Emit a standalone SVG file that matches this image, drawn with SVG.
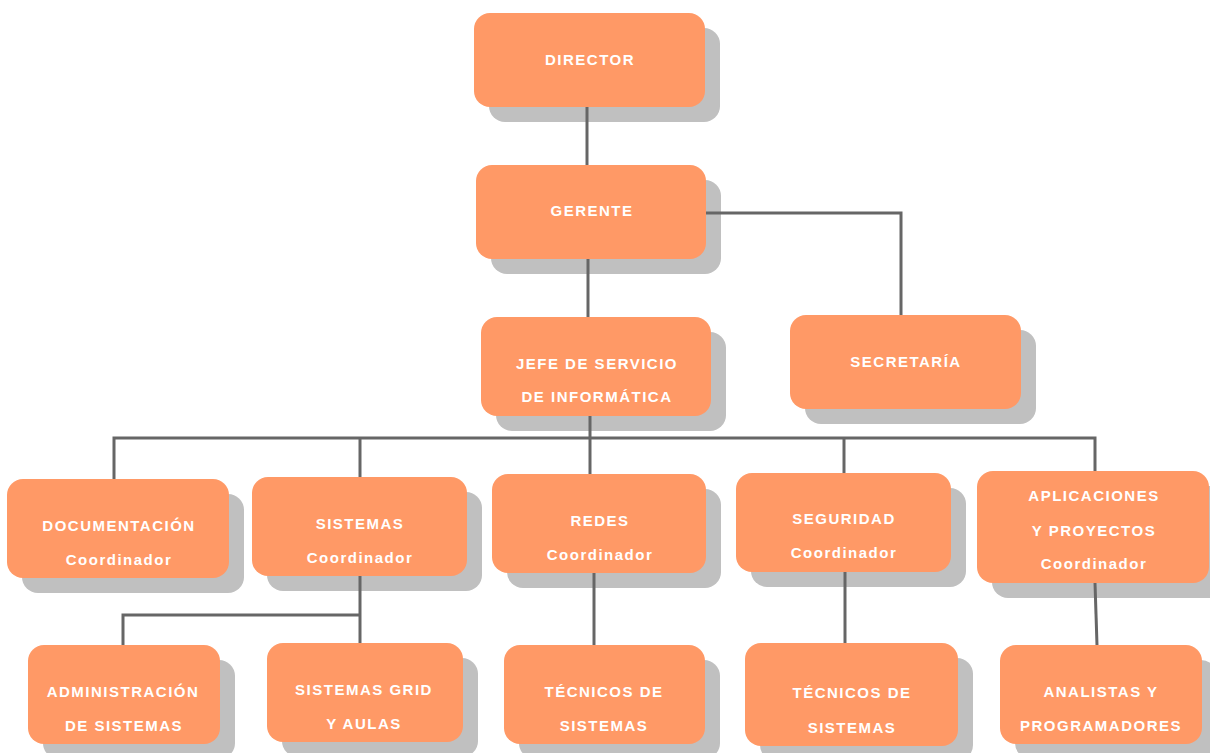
<svg xmlns="http://www.w3.org/2000/svg" width="1210" height="753" viewBox="0 0 1210 753">
<style>
.box{fill:#FF9966;}
.sh{fill:#C0C0C0;}
.t{font-family:"Liberation Sans",Arial,sans-serif;font-weight:bold;font-size:15px;letter-spacing:1.5px;fill:#FFFFFF;text-anchor:middle;}
.c{fill:none;stroke:#666666;stroke-width:3;}
</style>
<rect width="1210" height="753" fill="#FFFFFF"/>
<g id="director"><rect class="sh" x="489" y="28" width="231" height="94" rx="16"/><rect class="box" x="474" y="13" width="231" height="94" rx="16"/><text class="t" x="590" y="65">DIRECTOR</text></g>
<g id="gerente"><rect class="sh" x="491" y="180" width="230" height="94" rx="16"/><rect class="box" x="476" y="165" width="230" height="94" rx="16"/><text class="t" x="592" y="216">GERENTE</text></g>
<g id="jefe"><rect class="sh" x="496" y="332" width="230" height="99" rx="16"/><rect class="box" x="481" y="317" width="230" height="99" rx="16"/><text class="t" x="597" y="369">JEFE DE SERVICIO</text><text class="t" x="597" y="402">DE INFORMÁTICA</text></g>
<g id="secretaria"><rect class="sh" x="805" y="330" width="231" height="94" rx="16"/><rect class="box" x="790" y="315" width="231" height="94" rx="16"/><text class="t" x="906" y="367">SECRETARÍA</text></g>
<g id="documentacion"><rect class="sh" x="22" y="494" width="222" height="99" rx="16"/><rect class="box" x="7" y="479" width="222" height="99" rx="16"/><text class="t" x="119" y="531">DOCUMENTACIÓN</text><text class="t" x="119" y="565">Coordinador</text></g>
<g id="sistemas"><rect class="sh" x="267" y="492" width="215" height="99" rx="16"/><rect class="box" x="252" y="477" width="215" height="99" rx="16"/><text class="t" x="360" y="529">SISTEMAS</text><text class="t" x="360" y="563">Coordinador</text></g>
<g id="redes"><rect class="sh" x="507" y="489" width="214" height="99" rx="16"/><rect class="box" x="492" y="474" width="214" height="99" rx="16"/><text class="t" x="600" y="526">REDES</text><text class="t" x="600" y="560">Coordinador</text></g>
<g id="seguridad"><rect class="sh" x="751" y="488" width="215" height="99" rx="16"/><rect class="box" x="736" y="473" width="215" height="99" rx="16"/><text class="t" x="844" y="524">SEGURIDAD</text><text class="t" x="844" y="558">Coordinador</text></g>
<g id="aplicaciones"><rect class="sh" x="992" y="486" width="232" height="112" rx="16"/><rect class="box" x="977" y="471" width="232" height="112" rx="16"/><text class="t" x="1094" y="501">APLICACIONES</text><text class="t" x="1094" y="536">Y PROYECTOS</text><text class="t" x="1094" y="569">Coordinador</text></g>
<g id="administracion"><rect class="sh" x="43" y="660" width="192" height="99" rx="16"/><rect class="box" x="28" y="645" width="192" height="99" rx="16"/><text class="t" x="123" y="697">ADMINISTRACIÓN</text><text class="t" x="124" y="731">DE SISTEMAS</text></g>
<g id="grid"><rect class="sh" x="282" y="658" width="196" height="99" rx="16"/><rect class="box" x="267" y="643" width="196" height="99" rx="16"/><text class="t" x="364" y="695">SISTEMAS GRID</text><text class="t" x="364" y="729">Y AULAS</text></g>
<g id="tecnicos1"><rect class="sh" x="519" y="660" width="201" height="99" rx="16"/><rect class="box" x="504" y="645" width="201" height="99" rx="16"/><text class="t" x="604" y="697">TÉCNICOS DE</text><text class="t" x="604" y="731">SISTEMAS</text></g>
<g id="tecnicos2"><rect class="sh" x="760" y="658" width="213" height="103" rx="16"/><rect class="box" x="745" y="643" width="213" height="103" rx="16"/><text class="t" x="852" y="698">TÉCNICOS DE</text><text class="t" x="852" y="733">SISTEMAS</text></g>
<g id="analistas"><rect class="sh" x="1015" y="660" width="202" height="99" rx="16"/><rect class="box" x="1000" y="645" width="202" height="99" rx="16"/><text class="t" x="1101" y="697">ANALISTAS Y</text><text class="t" x="1101" y="731">PROGRAMADORES</text></g>
<g id="connectors">
<path class="c" d="M587 107V165"/>
<path class="c" d="M588 259V317"/>
<path class="c" d="M706 213H901V315"/>
<path class="c" d="M114 479V438H1095V471"/>
<path class="c" d="M590 416V474"/>
<path class="c" d="M360 438V477"/>
<path class="c" d="M844 438V473"/>
<path class="c" d="M360 576V643"/>
<path class="c" d="M360 615H123V645"/>
<path class="c" d="M594 573V645"/>
<path class="c" d="M845 572V643"/>
<path class="c" d="M1095 583L1097 645"/>
</g>
</svg>
